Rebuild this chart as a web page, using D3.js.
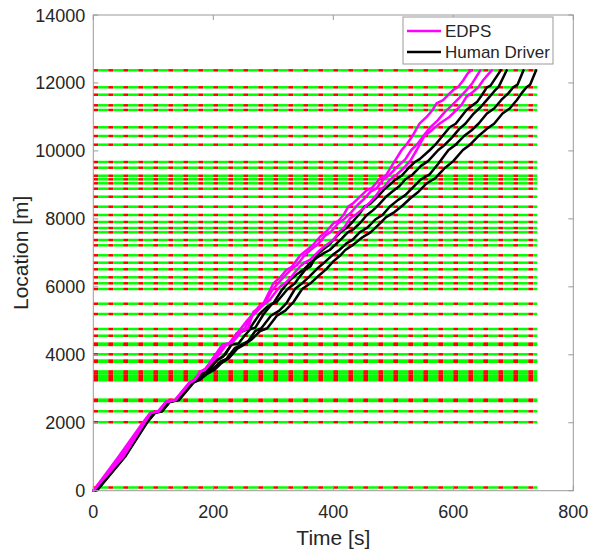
<!DOCTYPE html>
<html>
<head>
<meta charset="utf-8">
<script src="https://cdn.jsdelivr.net/npm/d3@7"></script>
<style>
  body { margin: 0; background: #fff; }
  svg { display: block; }
</style>
</head>
<body>
<svg id="chart" width="590" height="550"></svg>
<script>
// Axis ticks
const xTicks = [0, 200, 400, 600, 800];
const yTicks = [0, 2000, 4000, 6000, 8000, 10000, 12000, 14000];

// Traffic signal positions along the corridor [m]
const signalLocations = [
  94, 2016, 2337, 2640, 2680, 3250, 3310, 3380, 3450, 3510,
  3790, 3830, 4014, 4290, 4330, 4561, 4759, 5200, 5503, 5936,
  6104, 6280, 6516, 6710, 6928, 7222, 7378, 7604, 7731, 7908,
  8114, 8358, 8652, 8888, 9046, 9164, 9270, 9506, 9673, 10183,
  10439, 10695, 11204, 11342, 11654, 11872, 12372
];
// Signal timing [s]
const signalCycle = 25;
const signalRed = 8;
const signalEnd = 740;

// Vehicle trajectories: [time s, location m]
const edps1 = [[0,0],[42,1000],[83,2016],[95,2290],[108,2337],[121,2620],[136,2670],[160,3180],[168,3260],[178,3500],[186,3560],[204,4014],[215,4300],[226,4330],[238,4600],[246,4770],[256,5000],[266,5200],[276,5420],[284,5520],[300,6100],[312,6290],[322,6500],[331,6590],[345,6930],[356,7084],[366,7230],[378,7475],[388,7620],[400,7869],[408,7930],[417,8113],[425,8360],[433,8458],[445,8660],[456,8849],[464,8900],[478,9194],[488,9290],[500,9635],[514,10027],[522,10190],[532,10440],[544,10812],[556,11007],[566,11220],[572,11400],[583,11498],[592,11660],[600,11792],[608,11880],[617,12086],[624,12283],[630,12372]];
const edps2 = [[0,0],[46,1000],[85,2016],[96,2290],[109,2337],[122,2620],[137,2670],[161,3180],[169,3260],[179,3500],[188,3600],[196,3760],[210,4014],[222,4300],[232,4360],[248,4700],[258,4780],[267,5268],[280,5420],[294,5612],[302,5800],[311,6004],[320,6110],[328,6250],[336,6420],[344,6592],[352,6710],[361,6790],[370,6950],[378,7084],[390,7250],[400,7380],[410,7620],[418,7740],[428,8016],[438,8130],[450,8310],[462,8500],[470,8660],[478,8849],[486,8960],[494,9144],[504,9280],[517,9488],[528,9700],[539,10027],[545,10224],[552,10440],[561,10565],[570,10700],[578,10812],[594,11007],[605,11204],[614,11360],[622,11595],[633,11742],[642,11880],[650,12086],[664,12372]];
const edps3 = [[0,0],[50,1000],[86,2016],[96,2290],[109,2337],[122,2620],[137,2670],[161,3180],[169,3260],[179,3500],[187,3580],[194,3740],[206,4014],[218,4300],[228,4350],[242,4650],[252,4760],[262,5100],[274,5300],[286,5520],[298,5900],[308,6104],[318,6300],[330,6516],[340,6650],[352,6928],[362,7084],[374,7250],[386,7500],[396,7620],[408,7870],[418,7990],[430,8200],[440,8400],[452,8600],[462,8800],[472,8900],[484,9164],[494,9300],[508,9560],[520,9750],[530,10027],[540,10200],[550,10440],[562,10700],[574,10900],[586,11150],[598,11350],[610,11560],[620,11750],[632,12000],[645,12372]];
const human1 = [[0,0],[4,20],[51,1000],[87,2016],[100,2290],[112,2337],[125,2620],[140,2670],[163,3180],[172,3260],[182,3500],[192,3580],[200,3802],[212,3900],[220,4014],[230,4300],[242,4330],[252,4561],[262,4760],[270,4800],[284,5200],[298,5503],[306,5560],[324,5936],[336,6104],[344,6300],[354,6516],[362,6600],[372,6928],[382,7084],[392,7222],[400,7380],[412,7604],[422,7731],[432,7908],[442,8114],[452,8358],[462,8450],[474,8652],[486,8888],[494,9000],[504,9164],[514,9270],[526,9506],[536,9673],[544,9760],[561,10027],[570,10183],[582,10439],[594,10695],[604,10800],[622,11204],[632,11342],[640,11450],[648,11654],[656,11872],[662,11920],[679,12372]];
const human2 = [[0,0],[5,20],[52,1000],[88,2016],[101,2290],[113,2337],[126,2620],[141,2670],[164,3180],[173,3260],[183,3500],[194,3560],[206,3846],[216,3944],[228,4238],[239,4632],[250,4700],[261,4780],[278,5220],[290,5420],[300,5515],[314,5900],[328,6200],[340,6380],[350,6500],[361,6692],[372,6850],[385,7000],[394,7084],[404,7250],[414,7420],[424,7604],[434,7700],[446,7908],[456,8114],[466,8250],[476,8420],[488,8652],[498,8800],[510,8960],[520,9164],[532,9300],[546,9560],[558,9700],[575,10027],[586,10183],[598,10400],[610,10650],[620,10800],[634,11100],[646,11300],[656,11500],[668,11750],[676,11900],[689,12372]];
const human3 = [[0,0],[6,20],[52,1000],[89,2016],[102,2290],[114,2337],[127,2620],[142,2670],[166,3180],[175,3260],[186,3480],[198,3560],[212,3800],[222,3880],[236,4200],[248,4308],[258,4400],[270,4700],[280,4780],[296,5150],[310,5300],[322,5520],[336,5936],[348,6104],[360,6300],[372,6516],[384,6700],[398,6928],[410,7084],[422,7280],[432,7380],[444,7604],[456,7731],[470,7980],[482,8114],[494,8358],[508,8560],[520,8700],[534,8950],[546,9164],[560,9300],[574,9600],[592,10027],[604,10183],[618,10439],[630,10600],[642,10800],[656,11100],[668,11250],[680,11500],[692,11700],[700,11872],[707,11950],[717,12372]];
const human4 = [[0,0],[7,20],[53,1000],[90,2016],[103,2290],[115,2337],[128,2620],[143,2670],[167,3180],[177,3260],[190,3440],[202,3560],[214,3760],[226,3900],[240,4180],[252,4308],[264,4450],[278,4700],[290,4780],[306,5150],[320,5300],[334,5560],[348,5936],[362,6104],[374,6300],[388,6516],[400,6750],[412,6930],[420,7084],[434,7250],[448,7450],[462,7604],[474,7800],[488,8050],[502,8200],[516,8400],[528,8600],[542,8800],[556,9050],[570,9200],[586,9500],[600,9700],[616,10027],[628,10183],[642,10439],[656,10650],[668,10800],[682,11100],[694,11250],[706,11500],[714,11700],[722,11872],[728,11950],[738,12372]];

const edpsRuns = [edps1, edps2, edps3];
const humanRuns = [human1, human2, human3, human4];
const legendLabels = ["EDPS", "Human Driver"];
const runColors = ["#ff00ff", "#000000"];

const W = 590, H = 550;
const margin = { left: 93.3, right: 16.7, top: 15, bottom: 59.3 };
const svg = d3.select("#chart");
const font = "'Liberation Sans', Arial, Helvetica, sans-serif";
const textColor = "#262626";
const axisColor = "#9a9a9a";

const x = d3.scaleLinear().domain([0, 800]).range([margin.left, W - margin.right]);
const y = d3.scaleLinear().domain([0, 14000]).range([H - margin.bottom, margin.top]);

// Signal lines: red and green phases along time
const signalLayer = svg.append("g");
signalLocations.forEach(loc => {
  const segs = [];
  for (let t0 = 0; t0 < signalEnd; t0 += signalCycle) {
    segs.push({ a: t0, b: Math.min(t0 + signalRed, signalEnd), c: "#ff0000" });
    if (t0 + signalRed < signalEnd)
      segs.push({ a: t0 + signalRed, b: Math.min(t0 + signalCycle, signalEnd), c: "#00ff00" });
  }
  signalLayer.selectAll(null).data(segs).enter().append("line")
    .attr("x1", d => x(d.a)).attr("x2", d => x(d.b))
    .attr("y1", y(loc)).attr("y2", y(loc))
    .attr("stroke", d => d.c).attr("stroke-width", 2.5);
});

// Trajectories
const line = d3.line().x(d => x(d[0])).y(d => y(d[1]));
const trajLayer = svg.append("g").attr("fill", "none")
  .attr("stroke-width", 2.5).attr("stroke-linejoin", "round").attr("stroke-linecap", "round");
humanRuns.forEach(r => trajLayer.append("path").attr("d", line(r)).attr("stroke", runColors[1]));
edpsRuns.forEach(r => trajLayer.append("path").attr("d", line(r)).attr("stroke", runColors[0]));

// Axes box with inward ticks on all sides
const tickLen = 5;
const axes = svg.append("g");
axes.append("rect")
  .attr("x", x(0)).attr("y", y(14000))
  .attr("width", x(800) - x(0)).attr("height", y(0) - y(14000))
  .attr("fill", "none").attr("stroke", axisColor).attr("stroke-width", 1);
xTicks.forEach(v => {
  axes.append("line").attr("x1", x(v)).attr("x2", x(v)).attr("y1", y(0)).attr("y2", y(0) - tickLen).attr("stroke", axisColor);
  axes.append("line").attr("x1", x(v)).attr("x2", x(v)).attr("y1", y(14000)).attr("y2", y(14000) + tickLen).attr("stroke", axisColor);
  axes.append("text").attr("x", x(v)).attr("y", y(0) + 27)
    .attr("text-anchor", "middle").attr("font-family", font).attr("font-size", 18)
    .attr("fill", textColor).text(v);
});
yTicks.forEach(v => {
  axes.append("line").attr("x1", x(0)).attr("x2", x(0) + tickLen).attr("y1", y(v)).attr("y2", y(v)).attr("stroke", axisColor);
  axes.append("line").attr("x1", x(800)).attr("x2", x(800) - tickLen).attr("y1", y(v)).attr("y2", y(v)).attr("stroke", axisColor);
  axes.append("text").attr("x", x(0) - 8).attr("y", y(v) + 6.5)
    .attr("text-anchor", "end").attr("font-family", font).attr("font-size", 18)
    .attr("fill", textColor).text(v);
});

// Axis titles
svg.append("text").attr("x", (x(0) + x(800)) / 2).attr("y", 545)
  .attr("text-anchor", "middle").attr("font-family", font).attr("font-size", 21)
  .attr("fill", textColor).text("Time [s]");
svg.append("text").attr("transform", `translate(28,${(y(0) + y(14000)) / 2}) rotate(-90)`)
  .attr("text-anchor", "middle").attr("font-family", font).attr("font-size", 21)
  .attr("fill", textColor).text("Location [m]");

// Legend
const lg = svg.append("g").attr("transform", "translate(403,17)");
lg.append("rect").attr("width", 150).attr("height", 47)
  .attr("fill", "#fff").attr("stroke", "#999").attr("stroke-width", 1);
legendLabels.forEach((lab, i) => {
  const ly = 14 + i * 21;
  lg.append("line").attr("x1", 4).attr("x2", 38).attr("y1", ly).attr("y2", ly)
    .attr("stroke", runColors[i]).attr("stroke-width", 2.5);
  lg.append("text").attr("x", 42).attr("y", ly + 6).attr("font-family", font)
    .attr("font-size", 17).attr("fill", textColor).text(lab);
});
</script>
</body>
</html>
